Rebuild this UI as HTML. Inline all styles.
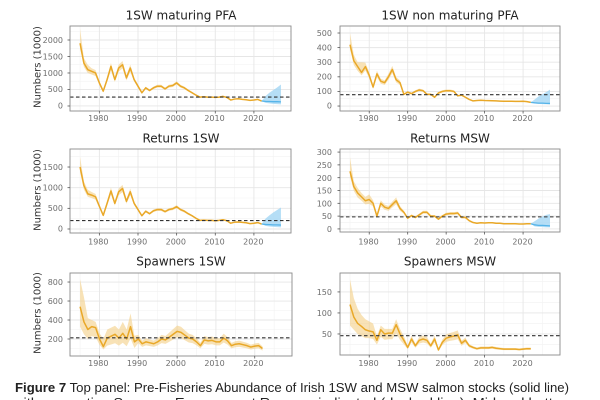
<!DOCTYPE html>
<html>
<head>
<meta charset="utf-8">
<style>
  html,body{margin:0;padding:0;background:#fff;}
  svg{display:block;}
  .tick{font-family:"DejaVu Sans","Liberation Sans",sans-serif;font-size:8px;fill:#6e6e6e;}
  .ttl{font-family:"DejaVu Sans","Liberation Sans",sans-serif;font-size:12px;fill:#222;}
  .yl{font-family:"DejaVu Sans","Liberation Sans",sans-serif;font-size:10px;fill:#333;}
  .cap{font-family:"Liberation Sans",sans-serif;font-size:12.5px;fill:#222;}
</style>
</head>
<body>
<svg id="s" width="600" height="400" viewBox="0 0 600 400" xmlns="http://www.w3.org/2000/svg">
  <rect width="600" height="400" fill="#fff"/>
  <g id="plots"></g>

  <!-- Titles -->
  <text class="ttl" x="181" y="19.5" text-anchor="middle">1SW maturing PFA</text>
  <text class="ttl" x="450" y="19.5" text-anchor="middle">1SW non maturing PFA</text>
  <text class="ttl" x="181" y="142.5" text-anchor="middle">Returns 1SW</text>
  <text class="ttl" x="450" y="142.5" text-anchor="middle">Returns MSW</text>
  <text class="ttl" x="181" y="265.5" text-anchor="middle">Spawners 1SW</text>
  <text class="ttl" x="450" y="265.5" text-anchor="middle">Spawners MSW</text>

  <!-- Y axis labels -->
  <text class="yl" transform="translate(40.5,67) rotate(-90)" text-anchor="middle">Numbers (1000)</text>
  <text class="yl" transform="translate(40.5,190) rotate(-90)" text-anchor="middle">Numbers (1000)</text>
  <text class="yl" transform="translate(40.5,313) rotate(-90)" text-anchor="middle">Numbers (1000)</text>

  <!-- Panel 1 ticks -->
  <g class="tick" text-anchor="end">
    <text x="63" y="43">2000</text>
    <text x="63" y="59.5">1500</text>
    <text x="63" y="76">1000</text>
    <text x="63" y="92">500</text>
    <text x="63" y="108.5">0</text>
  </g>
  <g class="tick" text-anchor="middle">
    <text x="98.3" y="121">1980</text>
    <text x="137" y="121">1990</text>
    <text x="175.8" y="121">2000</text>
    <text x="214.5" y="121">2010</text>
    <text x="253.3" y="121">2020</text>
  </g>
  <!-- Panel 2 ticks -->
  <g class="tick" text-anchor="end">
    <text x="332" y="36">500</text>
    <text x="332" y="50.5">400</text>
    <text x="332" y="65">300</text>
    <text x="332" y="79.5">200</text>
    <text x="332" y="94">100</text>
    <text x="332" y="108.5">0</text>
  </g>
  <g class="tick" text-anchor="middle">
    <text x="368.5" y="121">1980</text>
    <text x="407" y="121">1990</text>
    <text x="445.5" y="121">2000</text>
    <text x="484" y="121">2010</text>
    <text x="522.5" y="121">2020</text>
  </g>
  <!-- Panel 3 ticks -->
  <g class="tick" text-anchor="end">
    <text x="63" y="170">1500</text>
    <text x="63" y="190.5">1000</text>
    <text x="63" y="211">500</text>
    <text x="63" y="231.5">0</text>
  </g>
  <g class="tick" text-anchor="middle">
    <text x="98.3" y="244.5">1980</text>
    <text x="137" y="244.5">1990</text>
    <text x="175.8" y="244.5">2000</text>
    <text x="214.5" y="244.5">2010</text>
    <text x="253.3" y="244.5">2020</text>
  </g>
  <!-- Panel 4 ticks -->
  <g class="tick" text-anchor="end">
    <text x="332" y="155">300</text>
    <text x="332" y="168">250</text>
    <text x="332" y="181">200</text>
    <text x="332" y="193.5">150</text>
    <text x="332" y="206.5">100</text>
    <text x="332" y="219">50</text>
    <text x="332" y="232">0</text>
  </g>
  <g class="tick" text-anchor="middle">
    <text x="368.5" y="244.5">1980</text>
    <text x="407" y="244.5">1990</text>
    <text x="445.5" y="244.5">2000</text>
    <text x="484" y="244.5">2010</text>
    <text x="522.5" y="244.5">2020</text>
  </g>
  <!-- Panel 5 ticks -->
  <g class="tick" text-anchor="end">
    <text x="63" y="285">800</text>
    <text x="63" y="304">600</text>
    <text x="63" y="323">400</text>
    <text x="63" y="342">200</text>
  </g>
  <g class="tick" text-anchor="middle">
    <text x="98.3" y="366">1980</text>
    <text x="137" y="366">1990</text>
    <text x="175.8" y="366">2000</text>
    <text x="214.5" y="366">2010</text>
    <text x="253.3" y="366">2020</text>
  </g>
  <!-- Panel 6 ticks -->
  <g class="tick" text-anchor="end">
    <text x="332" y="295">150</text>
    <text x="332" y="316">100</text>
    <text x="332" y="337">50</text>
  </g>
  <g class="tick" text-anchor="middle">
    <text x="368.5" y="366">1980</text>
    <text x="407" y="366">1990</text>
    <text x="445.5" y="366">2000</text>
    <text x="484" y="366">2010</text>
    <text x="522.5" y="366">2020</text>
  </g>

  <!-- Caption -->
  <text class="cap" x="15" y="392" textLength="554" lengthAdjust="spacingAndGlyphs"><tspan font-weight="bold">Figure 7</tspan> Top panel: Pre-Fisheries Abundance of Irish 1SW and MSW salmon stocks (solid line)</text>
  <text class="cap" x="13" y="407" textLength="560" lengthAdjust="spacingAndGlyphs">with respective Spawner Escapement Reserve indicated (dashed line). Mid and bottom</text>
</svg>

<script>
(function(){
  var NS="http://www.w3.org/2000/svg";
  var g=document.getElementById("plots");
  function el(n,a){var e=document.createElementNS(NS,n);for(var k in a)e.setAttribute(k,a[k]);g.appendChild(e);return e;}
  var X0=1972.4,X1=2029.6;

  function panel(c){
    var L=c.L,R=c.R,T=c.T,B=c.B;
    function xs(y){return L+(y-X0)/(X1-X0)*(R-L);}
    function ys(v){return B-(v-c.y0)/(c.y1-c.y0)*(B-T);}
    el("rect",{x:L,y:T,width:R-L,height:B-T,fill:"#fff"});
    var yr;
    for(yr=1975;yr<=2025;yr+=10){el("line",{x1:xs(yr),x2:xs(yr),y1:T,y2:B,stroke:"#f2f2f2","stroke-width":0.6});}
    c.ymin.forEach(function(v){var y=ys(v);if(y>T&&y<B)el("line",{x1:L,x2:R,y1:y,y2:y,stroke:"#f2f2f2","stroke-width":0.6});});
    for(yr=1980;yr<=2020;yr+=10){el("line",{x1:xs(yr),x2:xs(yr),y1:T,y2:B,stroke:"#e6e6e6","stroke-width":0.9});}
    c.yt.forEach(function(v){var y=ys(v);el("line",{x1:L,x2:R,y1:y,y2:y,stroke:"#e6e6e6","stroke-width":0.9});});
    var n=c.d.length,i,pts=[],up=[],lo=[];
    for(i=0;i<n;i++){
      var v=c.d[i];
      var f=(typeof c.f==="function")?c.f(i,v):c.f;
      var u=c.up&&c.up[i]!=null?c.up[i]:v*(1+f);
      var l=c.lo&&c.lo[i]!=null?c.lo[i]:v*(1-f);
      up.push(xs(1975+i).toFixed(2)+","+ys(u).toFixed(2));
      lo.unshift(xs(1975+i).toFixed(2)+","+ys(l).toFixed(2));
      pts.push(xs(1975+i).toFixed(2)+","+ys(v).toFixed(2));
    }
    el("polygon",{points:up.concat(lo).join(" "),fill:"#f3cf86","fill-opacity":0.6});
    el("polyline",{points:pts.join(" "),fill:"none",stroke:"#e9a828","stroke-width":1.5,"stroke-linejoin":"round"});
    if(c.fc){
      var fu=[],fl=[],fm=[];
      for(i=0;i<c.fc.m.length;i++){
        var x=xs(2022+i).toFixed(2);
        fu.push(x+","+ys(c.fc.u[i]).toFixed(2));
        fl.unshift(x+","+ys(c.fc.l[i]).toFixed(2));
        fm.push(x+","+ys(c.fc.m[i]).toFixed(2));
      }
      el("polygon",{points:fu.concat(fl).join(" "),fill:"#a3d6f4","fill-opacity":0.8});
      el("polyline",{points:fm.join(" "),fill:"none",stroke:"#56b4e9","stroke-width":1.3});
    }
    var sy=ys(c.ser);
    el("line",{x1:L,x2:R,y1:sy,y2:sy,stroke:"#333","stroke-width":1.1,"stroke-dasharray":"3.5,2.5"});
    el("rect",{x:L,y:T,width:R-L,height:B-T,fill:"none",stroke:"#8a8a8a","stroke-width":0.9});
    for(yr=1980;yr<=2020;yr+=10){el("line",{x1:xs(yr),x2:xs(yr),y1:B,y2:B+2.5,stroke:"#555","stroke-width":0.8});}
    c.yt.forEach(function(v){var y=ys(v);el("line",{x1:L-2.5,x2:L,y1:y,y2:y,stroke:"#555","stroke-width":0.8});});
  }

  panel({L:70,R:291,T:26,B:111,y0:-152,y1:2424,yt:[0,500,1000,1500,2000],ymin:[250,750,1250,1750,2250],
    d:[1900,1300,1100,1050,1000,700,450,800,1200,800,1150,1250,850,1150,800,600,400,550,470,550,600,600,520,600,620,700,600,550,470,400,330,270,280,270,270,260,270,290,260,180,210,220,200,190,170,180,200,150],
    f:function(i,v){return i<14?0.09:0.07;}, up:[2350,1450,1250], lo:[1750,1180,1000],
    fc:{m:[150,140,135,130,130,125],l:[150,95,80,65,55,50],u:[150,300,400,480,560,650]},
    ser:270});

  panel({L:340,R:560,T:26,B:111,y0:-34,y1:548,yt:[0,100,200,300,400,500],ymin:[50,150,250,350,450],
    d:[420,310,270,230,270,210,130,220,170,160,200,250,180,160,80,95,85,100,110,105,80,80,60,90,100,105,105,100,70,75,60,45,35,38,40,38,37,36,35,34,33,33,33,32,32,33,30,25],
    f:function(i,v){return i<14?0.1:0.08;}, up:[500,350,300,300], lo:[390,280,240,210],
    fc:{m:[25,22,20,20,18,18],l:[25,18,15,13,12,10],u:[25,45,65,80,95,112]},
    ser:78});

  panel({L:70,R:291,T:149,B:233,y0:-97,y1:1936,yt:[0,500,1000,1500],ymin:[250,750,1250,1750],
    d:[1500,1050,850,820,780,550,330,620,920,620,900,980,670,900,620,470,320,430,370,440,470,470,420,470,490,540,470,430,370,320,260,210,215,210,210,200,210,225,200,140,165,170,160,150,130,140,155,120],
    f:function(i,v){return i<14?0.09:0.07;}, up:[1750,1150,950], lo:[1380,950,780],
    fc:{m:[120,110,105,100,100,95],l:[120,75,60,50,45,40],u:[120,250,330,400,460,520]},
    ser:205});

  panel({L:340,R:560,T:149,B:232,y0:-12,y1:312,yt:[0,50,100,150,200,250,300],ymin:[25,75,125,175,225,275],
    d:[225,165,140,125,110,115,100,50,100,85,80,95,110,80,65,42,52,45,55,65,65,50,50,38,50,58,60,60,62,45,45,32,25,22,24,23,24,24,22,22,20,20,20,20,19,19,20,20],
    f:function(i,v){return i<14?0.12:0.09;}, up:[280,185,160,140,125,135], lo:[205,148,122,110,96,98],
    fc:{m:[20,16,14,14,13,12],l:[20,10,8,7,6,6],u:[20,30,40,48,55,58]},
    ser:47});

  panel({L:70,R:292,T:273,B:356,y0:21,y1:895,yt:[200,400,600,800],ymin:[100,300,500,700],
    d:[540,380,300,330,320,200,120,210,230,250,210,260,200,330,170,200,150,170,160,150,170,200,190,220,250,280,270,240,210,200,170,130,190,180,185,170,170,210,180,130,145,150,140,130,115,125,130,100],
    f:function(i,v){return i<15?0.38:0.22;}, up:[830,640,420,400,380,260,200,300,320,340,300,380,300,470], lo:[330,250,200,230,220,140,90],
    ser:212});

  panel({L:340,R:560,T:273,B:355,y0:0,y1:195,yt:[50,100,150],ymin:[25,75,125,175],
    d:[120,90,75,68,60,57,55,35,60,50,52,52,72,50,35,18,38,22,35,38,35,22,38,12,30,40,43,45,48,28,35,22,18,15,17,17,17,18,16,15,14,14,14,14,13,14,15,15],
    f:function(i,v){return i<15?0.28:(i<30?0.22:0.18);}, up:[180,135,110,95,85,80,75,45,70,62,62,62,85,62], lo:[70,60,50,45,40,40,38,25],
    ser:46});
})();
</script>
</body>
</html>
